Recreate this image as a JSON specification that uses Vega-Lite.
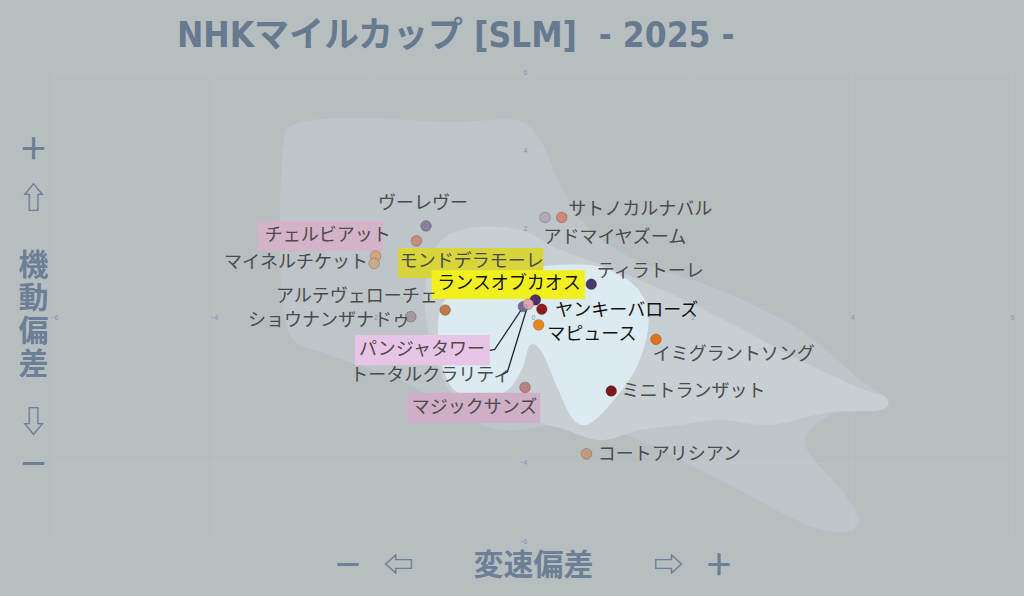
{
  "$schema": "https://vega.github.io/schema/vega-lite/v6.json",
  "autosize": "none",
  "width": 958,
  "height": 469,
  "padding": {"left": 54, "top": 72, "right": 12, "bottom": 55},
  "background": "#b7bec0",
  "config": {"view": {"stroke": null}},
  "title": {
    "text": "NHKマイルカップ [SLM]\u00a0 - 2025 -",
    "anchor": "start",
    "frame": "group",
    "dx": 123,
    "font": "DejaVu Sans Condensed, DejaVu Sans, Noto Sans CJK JP",
    "fontSize": 35,
    "fontWeight": "bold",
    "color": "#67798f",
    "offset": 14
  },
  "datasets": {
    "horses": [
      {"name": "ヴーレヴー", "x": -1.34, "y": 2.06, "lx": -1.94, "ly": 2.62},
      {"name": "チェルビアット", "x": -1.46, "y": 1.68, "lx": -3.36, "ly": 1.8},
      {"name": "モンドデラモーレ", "x": -1.97, "y": 1.29, "lx": -1.67, "ly": 1.14},
      {"name": "マイネルチケット", "x": -1.99, "y": 1.1, "lx": -3.87, "ly": 1.11},
      {"name": "アルテヴェローチェ", "x": -1.1, "y": -0.09, "lx": -3.22, "ly": 0.24},
      {"name": "ショウナンザナドゥ", "x": -1.53, "y": -0.26, "lx": -3.57, "ly": -0.37},
      {"name": "アドマイヤズーム", "x": 0.15, "y": 2.28, "lx": 0.13, "ly": 1.75},
      {"name": "サトノカルナバル", "x": 0.36, "y": 2.28, "lx": 0.44, "ly": 2.47},
      {"name": "ティラトーレ", "x": 0.73, "y": 0.57, "lx": 0.8, "ly": 0.88},
      {"name": "ランスオブカオス", "x": 0.03, "y": 0.17, "lx": -1.2, "ly": 0.58},
      {"name": "パンジャタワー", "x": -0.12, "y": 0.0, "lx": -2.18, "ly": -1.11},
      {"name": "トータルクラリティ", "x": -0.06, "y": 0.06, "lx": -2.29, "ly": -1.78},
      {"name": "ヤンキーバローズ", "x": 0.11, "y": -0.07, "lx": 0.28, "ly": -0.12},
      {"name": "マピュース", "x": 0.07, "y": -0.47, "lx": 0.18, "ly": -0.73},
      {"name": "イミグラントソング", "x": 1.54, "y": -0.84, "lx": 1.5, "ly": -1.24},
      {"name": "ミニトランザット", "x": 0.98, "y": -2.16, "lx": 1.11, "ly": -2.19},
      {"name": "コートアリシアン", "x": 0.67, "y": -3.77, "lx": 0.81, "ly": -3.8},
      {"name": "マジックサンズ", "x": -0.1, "y": -2.07, "lx": -1.52, "ly": -2.6}
    ],
    "boxes": [
      {"name": "チェルビアット", "x1": -3.45, "x2": -1.88, "y1": 1.42, "y2": 2.19},
      {"name": "モンドデラモーレ", "x1": -1.69, "x2": 0.13, "y1": 0.73, "y2": 1.5},
      {"name": "ランスオブカオス", "x1": -1.27, "x2": 0.65, "y1": 0.19, "y2": 0.93},
      {"name": "パンジャタワー", "x1": -2.23, "x2": -0.54, "y1": -1.5, "y2": -0.73},
      {"name": "マジックサンズ", "x1": -1.58, "x2": 0.09, "y1": -2.98, "y2": -2.21}
    ],
    "links": [
      {"name": "パンジャタワー", "i": 0, "x": -0.54, "y": -1.12},
      {"name": "パンジャタワー", "i": 1, "x": -0.48, "y": -1.1},
      {"name": "パンジャタワー", "i": 2, "x": -0.12, "y": 0.0},
      {"name": "トータルクラリティ", "i": 0, "x": -0.38, "y": -1.74},
      {"name": "トータルクラリティ", "i": 1, "x": -0.32, "y": -1.67},
      {"name": "トータルクラリティ", "i": 2, "x": -0.06, "y": 0.06}
    ],
    "contours": [
      {"lvl": 1, "i": 1, "x": -3.13, "y": 4.0},
      {"lvl": 1, "i": 2, "x": -2.98, "y": 4.67},
      {"lvl": 1, "i": 3, "x": -2.17, "y": 4.82},
      {"lvl": 1, "i": 4, "x": -1.04, "y": 4.72},
      {"lvl": 1, "i": 5, "x": -0.23, "y": 4.77},
      {"lvl": 1, "i": 6, "x": 0.09, "y": 4.26},
      {"lvl": 1, "i": 7, "x": 0.34, "y": 3.11},
      {"lvl": 1, "i": 8, "x": 0.71, "y": 1.96},
      {"lvl": 1, "i": 9, "x": 1.34, "y": 1.14},
      {"lvl": 1, "i": 10, "x": 2.34, "y": 0.42},
      {"lvl": 1, "i": 11, "x": 3.34, "y": -0.6},
      {"lvl": 1, "i": 12, "x": 4.1, "y": -1.88},
      {"lvl": 1, "i": 13, "x": 4.43, "y": -2.34},
      {"lvl": 1, "i": 14, "x": 4.32, "y": -2.65},
      {"lvl": 1, "i": 15, "x": 3.72, "y": -2.78},
      {"lvl": 1, "i": 16, "x": 3.41, "y": -3.54},
      {"lvl": 1, "i": 17, "x": 3.91, "y": -4.82},
      {"lvl": 1, "i": 18, "x": 4.07, "y": -5.63},
      {"lvl": 1, "i": 19, "x": 3.53, "y": -5.66},
      {"lvl": 1, "i": 20, "x": 2.34, "y": -4.44},
      {"lvl": 1, "i": 21, "x": 1.47, "y": -3.54},
      {"lvl": 1, "i": 22, "x": 0.84, "y": -3.11},
      {"lvl": 1, "i": 23, "x": 0.28, "y": -3.03},
      {"lvl": 1, "i": 24, "x": -0.41, "y": -3.16},
      {"lvl": 1, "i": 25, "x": -1.04, "y": -2.65},
      {"lvl": 1, "i": 26, "x": -1.67, "y": -1.88},
      {"lvl": 1, "i": 27, "x": -2.54, "y": -1.24},
      {"lvl": 1, "i": 28, "x": -3.04, "y": -0.73},
      {"lvl": 1, "i": 29, "x": -3.17, "y": 1.18},
      {"lvl": 2, "i": 1, "x": -1.2, "y": 1.57},
      {"lvl": 2, "i": 2, "x": -0.79, "y": 2.01},
      {"lvl": 2, "i": 3, "x": -0.16, "y": 1.96},
      {"lvl": 2, "i": 4, "x": 0.34, "y": 1.45},
      {"lvl": 2, "i": 5, "x": 1.09, "y": 0.88},
      {"lvl": 2, "i": 6, "x": 1.84, "y": 0.22},
      {"lvl": 2, "i": 7, "x": 2.59, "y": -0.55},
      {"lvl": 2, "i": 8, "x": 3.34, "y": -1.37},
      {"lvl": 2, "i": 9, "x": 4.1, "y": -2.09},
      {"lvl": 2, "i": 10, "x": 4.43, "y": -2.35},
      {"lvl": 2, "i": 11, "x": 4.35, "y": -2.65},
      {"lvl": 2, "i": 12, "x": 3.72, "y": -2.7},
      {"lvl": 2, "i": 13, "x": 2.97, "y": -3.03},
      {"lvl": 2, "i": 14, "x": 2.34, "y": -2.9},
      {"lvl": 2, "i": 15, "x": 1.84, "y": -3.03},
      {"lvl": 2, "i": 16, "x": 1.34, "y": -3.16},
      {"lvl": 2, "i": 17, "x": 0.84, "y": -3.42},
      {"lvl": 2, "i": 18, "x": 0.34, "y": -3.11},
      {"lvl": 2, "i": 19, "x": -0.16, "y": -2.85},
      {"lvl": 2, "i": 20, "x": -0.66, "y": -2.6},
      {"lvl": 2, "i": 21, "x": -1.04, "y": -2.14},
      {"lvl": 2, "i": 22, "x": -1.29, "y": -0.86},
      {"lvl": 2, "i": 23, "x": -1.35, "y": 0.42},
      {"lvl": 3, "i": 1, "x": -1.1, "y": 0.17},
      {"lvl": 3, "i": 2, "x": -0.66, "y": 0.63},
      {"lvl": 3, "i": 3, "x": -0.04, "y": 0.99},
      {"lvl": 3, "i": 4, "x": 0.71, "y": 1.06},
      {"lvl": 3, "i": 5, "x": 1.15, "y": 0.73},
      {"lvl": 3, "i": 6, "x": 1.4, "y": 0.17},
      {"lvl": 3, "i": 7, "x": 1.44, "y": -0.6},
      {"lvl": 3, "i": 8, "x": 1.28, "y": -1.62},
      {"lvl": 3, "i": 9, "x": 0.96, "y": -2.52},
      {"lvl": 3, "i": 10, "x": 0.69, "y": -3.01},
      {"lvl": 3, "i": 11, "x": 0.49, "y": -2.85},
      {"lvl": 3, "i": 12, "x": 0.29, "y": -2.01},
      {"lvl": 3, "i": 13, "x": 0.11, "y": -1.16},
      {"lvl": 3, "i": 14, "x": -0.04, "y": -0.99},
      {"lvl": 3, "i": 15, "x": -0.14, "y": -1.62},
      {"lvl": 3, "i": 16, "x": -0.35, "y": -2.19},
      {"lvl": 3, "i": 17, "x": -0.69, "y": -2.34},
      {"lvl": 3, "i": 18, "x": -0.98, "y": -2.14},
      {"lvl": 3, "i": 19, "x": -1.14, "y": -1.5},
      {"lvl": 3, "i": 20, "x": -1.19, "y": -0.6}
    ]
  },
  "encoding": {
    "x": {
      "type": "quantitative",
      "scale": {"domain": [-6, 6], "nice": false, "zero": false},
      "axis": {
        "orient": "bottom",
        "offset": -234.5,
        "zindex": 1,
        "domain": false,
        "ticks": false,
        "grid": true,
        "gridColor": "#ffffff",
        "gridOpacity": 0.05,
        "values": [-6, -4, -2, 0, 2, 4, 6],
        "labelFontSize": 7,
        "labelColor": "#8093b0",
        "labelPadding": 7,
        "labelFlush": false,
        "labelOverlap": false,
        "title": "－\u00a0\u00a0\u00a0⇦\u3000\u3000変速偏差\u3000\u3000⇨\u00a0\u00a0\u00a0＋",
        "titleFont": "Noto Sans CJK JP",
        "titleFontSize": 30,
        "titleFontWeight": "bold",
        "titleColor": "#6d7f96",
        "titleX": 479,
        "titleY": 258.5,
        "titleAlign": "center",
        "titleBaseline": "middle"
      }
    },
    "y": {
      "type": "quantitative",
      "scale": {"domain": [-6, 6], "nice": false, "zero": false},
      "axis": {
        "orient": "left",
        "offset": -479,
        "zindex": 1,
        "domain": false,
        "ticks": false,
        "grid": true,
        "gridColor": "#ffffff",
        "gridOpacity": 0.05,
        "values": [-6, -4, -2, 0, 2, 4, 6],
        "labelFontSize": 7,
        "labelColor": "#8093b0",
        "labelPadding": 6,
        "labelFlush": false,
        "labelOverlap": false,
        "title": ["＋", "\u200b", "\u200b", "\u200b", "\u200b", "\u200b", "⇧", "\u200b", "\u200b", "\u200b", "\u200b", "\u200b", "\u200b", "\u200b", "機", "\u200b", "\u200b", "\u200b", "動", "\u200b", "\u200b", "\u200b", "偏", "\u200b", "\u200b", "\u200b", "差", "\u200b", "\u200b", "\u200b", "\u200b", "\u200b", "\u200b", "⇩", "\u200b", "\u200b", "\u200b", "\u200b", "－"],
        "titleFont": "Noto Sans CJK JP",
        "titleFontSize": 30,
        "titleFontWeight": "bold",
        "titleColor": "#6d7f96",
        "titleLineHeight": 8.3,
        "titleAngle": 0,
        "titleX": -500,
        "titleY": 62,
        "titleAlign": "center",
        "titleBaseline": "top"
      }
    }
  },
  "layer": [
    {
      "data": {"name": "contours"},
      "transform": [{"filter": "datum.lvl == 1"}],
      "mark": {"type": "line", "interpolate": "cardinal-closed", "fill": "#bec5c8", "stroke": null, "strokeWidth": 0},
      "encoding": {"x": {"field": "x"}, "y": {"field": "y"}, "order": {"field": "i"}}
    },
    {
      "data": {"name": "contours"},
      "transform": [{"filter": "datum.lvl == 2"}],
      "mark": {"type": "line", "interpolate": "cardinal-closed", "fill": "#c7cfd2", "stroke": null, "strokeWidth": 0},
      "encoding": {"x": {"field": "x"}, "y": {"field": "y"}, "order": {"field": "i"}}
    },
    {
      "data": {"name": "contours"},
      "transform": [{"filter": "datum.lvl == 3"}],
      "mark": {"type": "line", "interpolate": "cardinal-closed", "fill": "#dcebf2", "stroke": null, "strokeWidth": 0},
      "encoding": {"x": {"field": "x"}, "y": {"field": "y"}, "order": {"field": "i"}}
    },
    {
      "mark": {"type": "rule", "color": "#97abcb", "strokeWidth": 2},
      "encoding": {"x": {"datum": 0}}
    },
    {
      "mark": {"type": "rule", "color": "#97abcb", "strokeWidth": 2},
      "encoding": {"y": {"datum": 0}}
    },
    {
      "data": {"name": "boxes"},
      "mark": {"type": "rect"},
      "encoding": {
        "x": {"field": "x1"},
        "x2": {"field": "x2"},
        "y": {"field": "y1"},
        "y2": {"field": "y2"},
        "color": {
          "field": "name",
          "type": "nominal",
          "legend": null,
          "scale": {
            "domain": ["チェルビアット", "モンドデラモーレ", "ランスオブカオス", "パンジャタワー", "マジックサンズ"],
            "range": ["#d4b3c9", "#d7d53b", "#f2ef1e", "#e8c4e6", "#cfaec8"]
          }
        }
      }
    },
    {
      "data": {"name": "links"},
      "mark": {"type": "line", "color": "#222222", "strokeWidth": 1.3},
      "encoding": {
        "x": {"field": "x"},
        "y": {"field": "y"},
        "detail": {"field": "name"},
        "order": {"field": "i"}
      }
    },
    {
      "data": {"name": "horses"},
      "mark": {"type": "circle", "size": 115, "opacity": 1, "stroke": "#00000030", "strokeWidth": 1},
      "encoding": {
        "x": {"field": "x"},
        "y": {"field": "y"},
        "fill": {
          "field": "name",
          "type": "nominal",
          "legend": null,
          "scale": {
            "domain": ["ヴーレヴー", "チェルビアット", "モンドデラモーレ", "マイネルチケット", "アルテヴェローチェ", "ショウナンザナドゥ", "アドマイヤズーム", "サトノカルナバル", "ティラトーレ", "ランスオブカオス", "パンジャタワー", "トータルクラリティ", "ヤンキーバローズ", "マピュース", "イミグラントソング", "ミニトランザット", "コートアリシアン", "マジックサンズ"],
            "range": ["#8b7d9e", "#c58c80", "#d9a27a", "#c9aa88", "#c07848", "#a4979f", "#b4a7b6", "#cd8878", "#4a3a66", "#4d2c6c", "#6c6c98", "#e0a3ac", "#8e1c1e", "#ea851c", "#e0731e", "#7c1a1a", "#c39c7d", "#c07d7d"]
          }
        }
      }
    },
    {
      "data": {"name": "horses"},
      "mark": {"type": "text", "align": "left", "baseline": "middle", "font": "Noto Sans CJK JP", "fontSize": 18},
      "encoding": {
        "x": {"field": "lx"},
        "y": {"field": "ly"},
        "text": {"field": "name"},
        "color": {
          "condition": {"test": "indexof(['ヤンキーバローズ','マピュース','ランスオブカオス'], datum.name) >= 0", "value": "#111111"},
          "value": "#4a4a4a"
        }
      }
    }
  ],
  "resolve": {"scale": {"color": "independent", "fill": "independent"}}
}
